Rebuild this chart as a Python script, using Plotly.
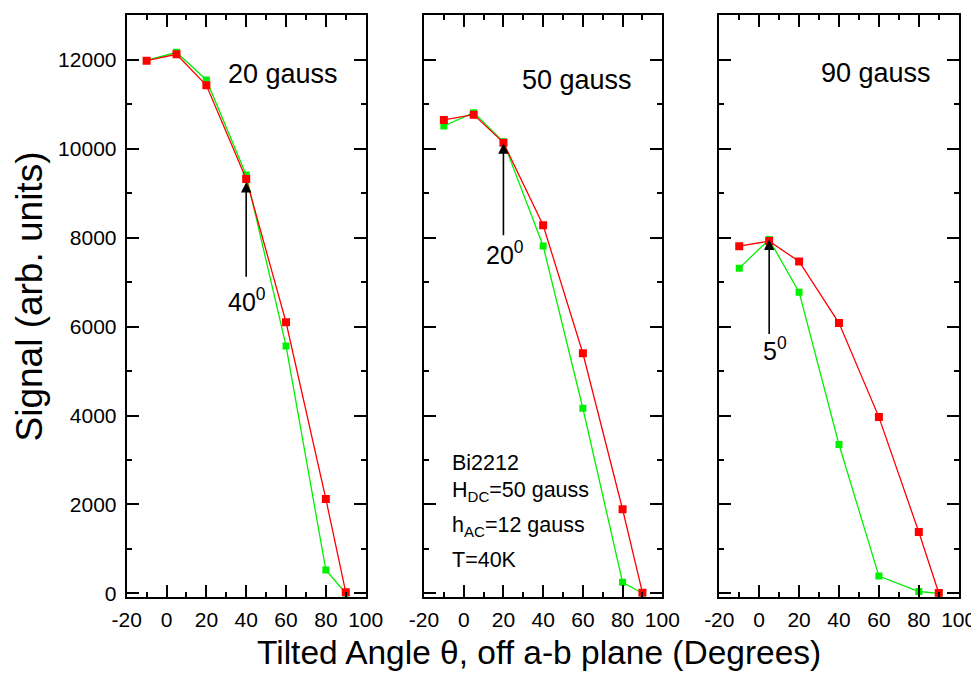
import plotly.graph_objects as go

# ---- data ----
angles = [-10, 5, 20, 40, 60, 80, 90]

g20_red = [11985, 12128, 11430, 9323, 6098, 2122, 22]
g20_green = [11990, 12173, 11550, 9412, 5565, 524, 0]
g50_red = [10650, 10770, 10140, 8281, 5400, 1890, 14]
g50_green = [10515, 10815, 10160, 7815, 4163, 248, 0]
g90_red = [7811, 7924, 7465, 6079, 3964, 1377, 5]
g90_green = [7316, 7960, 6776, 3348, 387, 40, 0]

panel_labels = ["20 gauss", "50 gauss", "90 gauss"]
arrow_angles = [40, 20, 5]
arrow_tips = [9250, 10125, 7960]
arrow_tails = [7090, 8025, 5800]
arrow_texts = ["40<sup>0</sup>", "20<sup>0</sup>", "5<sup>0</sup>"]

x_ticks = [-20, 0, 20, 40, 60, 80, 100]
y_ticks = [0, 2000, 4000, 6000, 8000, 10000, 12000]

info_lines = ["Bi2212", "H<sub>DC</sub>=50 gauss", "h<sub>AC</sub>=12 gauss", "T=40K"]
info_y = [2925, 2286, 1499, 749]

FONT = "Liberation Sans, Arial, sans-serif"
RED = "#ff0000"
GREEN = "#00f000"

W, H = 979, 680
OFF = 8  # page body margin


def px(v):
    return (v - OFF) / W


def py(v):
    return 1 - (v - OFF) / H


xdoms = [(126.7, 365.7), (424.0, 662.3), (719.3, 958.7)]
ydom = (py(596.7), py(15.0))

fig = go.Figure()

series = [(g20_green, g20_red), (g50_green, g50_red), (g90_green, g90_red)]
for i, (g, r) in enumerate(series):
    xa = "x" if i == 0 else f"x{i+1}"
    ya = "y" if i == 0 else f"y{i+1}"
    fig.add_trace(go.Scatter(x=angles, y=g, mode="lines+markers", xaxis=xa, yaxis=ya,
                             line=dict(color=GREEN, width=1.3),
                             marker=dict(symbol="square", size=7, color=GREEN),
                             showlegend=False))
    fig.add_trace(go.Scatter(x=angles, y=r, mode="lines+markers", xaxis=xa, yaxis=ya,
                             line=dict(color=RED, width=1.3),
                             marker=dict(symbol="square", size=8, color=RED),
                             showlegend=False))

axis_common = dict(showline=True, linecolor="black", linewidth=2, mirror="allticks",
                   ticks="inside", tickcolor="black", tickwidth=2, ticklen=12,
                   showgrid=False, zeroline=False, automargin=False,
                   tickfont=dict(family=FONT, size=21, color="black"))

layout = dict(width=W, height=H, margin=dict(l=0, r=0, t=0, b=0),
              paper_bgcolor="white", plot_bgcolor="white", showlegend=False)

for i in range(3):
    xk = "xaxis" if i == 0 else f"xaxis{i+1}"
    yk = "yaxis" if i == 0 else f"yaxis{i+1}"
    xa = "x" if i == 0 else f"x{i+1}"
    layout[xk] = dict(axis_common, domain=[px(xdoms[i][0]), px(xdoms[i][1])],
                      range=[-20, 100], tickvals=x_ticks, ticktext=[str(v) for v in x_ticks],
                      anchor="y" if i == 0 else f"y{i+1}", ticklabelstandoff=3,
                      minor=dict(ticks="inside", ticklen=5, tickwidth=1.5, tickcolor="black", dtick=10, tick0=0))
    layout[yk] = dict(axis_common, domain=list(ydom), range=[-77, 13012],
                      tickvals=y_ticks, ticktext=[str(v) for v in y_ticks],
                      showticklabels=(i == 0), anchor=xa, ticklabelstandoff=4,
                      minor=dict(ticks="inside", ticklen=5, tickwidth=1.5, tickcolor="black", dtick=1000, tick0=0))

fig.update_layout(**layout)

label_pos = [(58.7, 11680), (57.1, 11560), (58.4, 11700)]
arrow_label_pos = [(40.6, 6600), (20.7, 7650), (7.8, 5500)]
for i in range(3):
    xa = "x" if i == 0 else f"x{i+1}"
    ya = "y" if i == 0 else f"y{i+1}"
    fig.add_annotation(x=label_pos[i][0], y=label_pos[i][1], xref=xa, yref=ya,
                       text=panel_labels[i], showarrow=False,
                       font=dict(family=FONT, size=27, color="black"))
    fig.add_annotation(x=arrow_angles[i], y=arrow_tips[i], ax=arrow_angles[i], ay=arrow_tails[i],
                       xref=xa, yref=ya, axref=xa, ayref=ya, text="", showarrow=True,
                       arrowhead=2, arrowsize=1.3, arrowwidth=1.6, arrowcolor="black")
    fig.add_annotation(x=arrow_label_pos[i][0], y=arrow_label_pos[i][1], xref=xa, yref=ya,
                       text=arrow_texts[i], showarrow=False,
                       font=dict(family=FONT, size=25, color="black"))

for line, yv in zip(info_lines, info_y):
    fig.add_annotation(x=-6.9, y=yv, xref="x2", yref="y2", text=line, showarrow=False,
                       xanchor="left", yanchor="middle",
                       font=dict(family=FONT, size=21.5, color="black"))

fig.add_annotation(x=px(29), y=py(296.5), xref="paper", yref="paper",
                   text="Signal (arb. units)", textangle=-90, showarrow=False,
                   xanchor="center", yanchor="middle",
                   font=dict(family=FONT, size=37, color="black"))
fig.add_annotation(x=px(539), y=py(652), xref="paper", yref="paper",
                   text="Tilted Angle θ, off a-b plane (Degrees)", showarrow=False,
                   xanchor="center", yanchor="middle",
                   font=dict(family=FONT, size=33.5, color="black"))

fig.write_html("out.html")
